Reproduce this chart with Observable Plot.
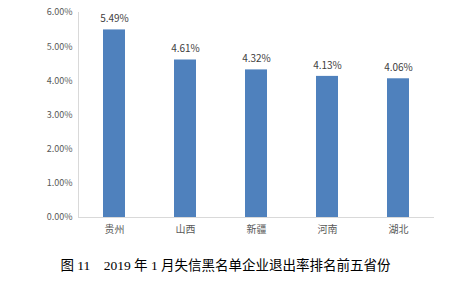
<!DOCTYPE html>
<html><head><meta charset="utf-8">
<script src="https://cdn.jsdelivr.net/npm/d3@7"></script>
<script src="https://cdn.jsdelivr.net/npm/@observablehq/plot@0.6"></script>
<style>
body{margin:0;background:#fff;font-family:"Noto Sans CJK SC","Noto Sans",sans-serif;}
#cap{text-align:center;font-family:"Liberation Serif","Noto Sans CJK SC",serif;font-size:13.5px;line-height:18px;color:#000;margin-top:12px;padding-right:4px;}
</style></head><body>
<div id="chart"></div>
<div id="cap">图 11&nbsp;&nbsp;&nbsp;&nbsp;2019 年 1 月失信黑名单企业退出率排名前五省份</div>
<script>
const provinces = ["贵州","山西","新疆","河南","湖北"];
const rates = [5.49, 4.61, 4.32, 4.13, 4.06];
const yTicks = [0,1,2,3,4,5,6];
const data = provinces.map((p,i)=>({p, v: rates[i]}));
const chart = Plot.plot({
  width: 455, height: 245,
  marginTop: 12, marginBottom: 28, marginLeft: 78, marginRight: 21,
  style:{fontFamily:'"Noto Sans CJK SC","Noto Sans",sans-serif', fontSize:"9px", color:"#595959", background:"#fff"},
  x:{domain: provinces, paddingInner: 0.69, paddingOuter: 0.345, label: null},
  y:{domain:[0,6], label:null},
  marks:[
    Plot.barY(data, {x:"p", y:"v", fill:"#4F81BD"}),
    Plot.text(data, {x:"p", y:"v", text: d => d.v.toFixed(2)+"%", dy:-11, fill:"#404040", fontSize:10}),
    Plot.ruleY([0], {stroke:"#d9d9d9"}),
    Plot.axisY({ticks: yTicks, tickFormat: d => d.toFixed(2)+"%", tickSize: 0, tickPadding: 6, fontSize: 9, fill:"#595959"}),
    Plot.axisX({tickSize: 0, tickPadding: 8, fontSize: 10, fill:"#595959"})
  ]
});
document.getElementById("chart").appendChild(chart);
const svg = d3.select(chart);
svg.append("line").attr("x1",78.5).attr("x2",78.5).attr("y1",12).attr("y2",217).attr("stroke","#d9d9d9");
</script>
</body></html>
